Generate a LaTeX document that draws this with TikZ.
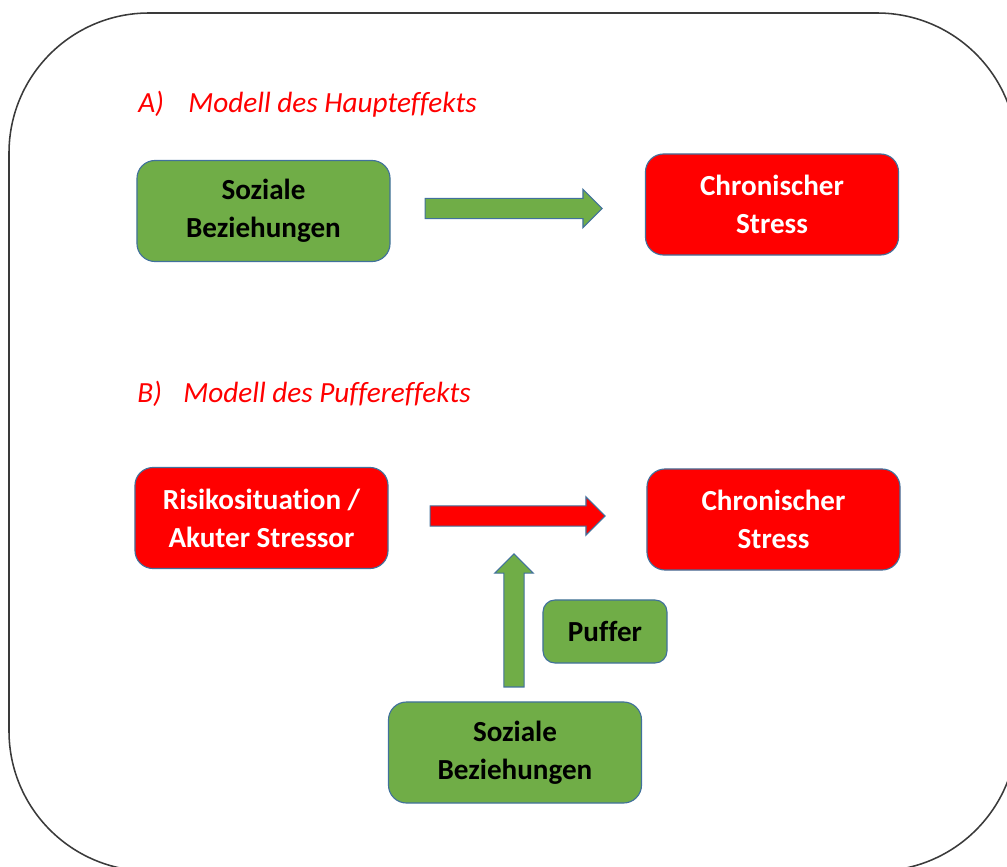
\documentclass[tikz,border=0pt]{standalone}
\usepackage{fontspec}
\setmainfont{Carlito}[Ligatures=NoCommon]
\usetikzlibrary{shapes.arrows}

\definecolor{boxgreen}{HTML}{70AD47}
\definecolor{boxred}{HTML}{FF0000}
\definecolor{boxline}{HTML}{41719C}
\definecolor{frameline}{HTML}{3A3A3A}

\begin{document}
\begin{tikzpicture}[x=0.025cm,y=-0.025cm,
  box/.style={draw=boxline,line width=0.8pt,rounded corners=0.45cm,minimum width=6.325cm,minimum height=2.525cm,align=center,font=\bfseries\fontsize{20.7}{27}\selectfont},
  greenbox/.style={box,fill=boxgreen,text=black},
  redbox/.style={box,fill=boxred,text=white},
  blockarrow/.style={single arrow,draw=boxline,line width=0.8pt,inner xsep=0pt,inner ysep=0.24cm,single arrow head extend=0.225cm,single arrow tip angle=90},
  title/.style={anchor=base west,inner sep=0pt,text=boxred,font=\itshape\fontsize{20.8}{25}\selectfont}
]
\clip (0,0) rectangle (1007,867);
\draw[frameline,line width=1.1pt,rounded corners=3.5cm] (9,13) rectangle (1017,871);

% A) Haupteffekt
\node[title] (labA) at (138,113) {A)};
\node[title] (titA) at (188,113) {Modell des Haupteffekts};
\node[greenbox] (soz1) at (263.5,211) {Soziale\\Beziehungen};
\node[redbox] (stress1) at (772,204.5) {Chronischer\\Stress};
\node[blockarrow,fill=boxgreen,minimum height=4.425cm] (arrA) at (508.5,208.5) {};

% B) Puffereffekt
\node[title] (labB) at (137,402) {B)};
\node[title] (titB) at (183,402) {Modell des Puffereffekts};
\node[redbox] (risk) at (261.5,518) {Risikosituation /\\Akuter Stressor};
\node[redbox] (stress2) at (773.5,519.5) {Chronischer\\Stress};
\node[blockarrow,fill=boxred,minimum height=4.375cm] (arrB) at (512.5,516) {};
\node[blockarrow,fill=boxgreen,minimum height=3.325cm,rotate=90] (arrUp) at (514,625.5) {};
\node[greenbox,minimum width=3.1cm,minimum height=1.575cm,rounded corners=0.3cm] (puffer) at (605,631.5) {Puffer};
\node[greenbox] (soz2) at (515,752.5) {Soziale\\Beziehungen};
\end{tikzpicture}
\end{document}
